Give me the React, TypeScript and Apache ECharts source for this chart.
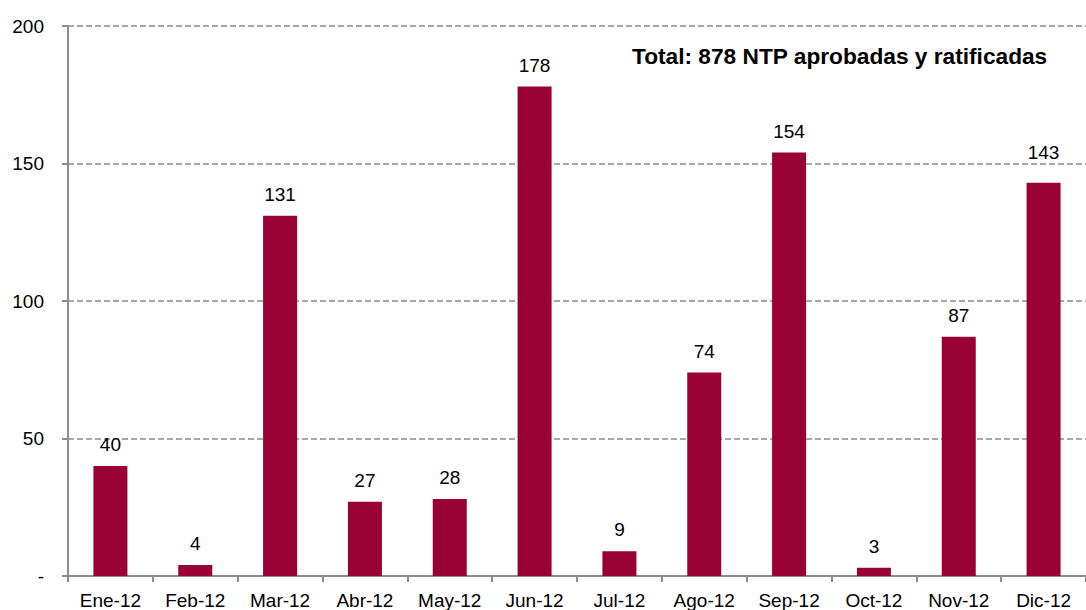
import React, { useEffect, useRef } from "react";
import * as echarts from "echarts";

const categories = ["Ene-12", "Feb-12", "Mar-12", "Abr-12", "May-12", "Jun-12", "Jul-12", "Ago-12", "Sep-12", "Oct-12", "Nov-12", "Dic-12"];
const values = [40, 4, 131, 27, 28, 178, 9, 74, 154, 3, 87, 143];
const yTicks = [0, 50, 100, 150, 200];
const totalText = "Total: 878 NTP aprobadas y ratificadas";

export default function App() {
  const ref = useRef<HTMLDivElement>(null);
  useEffect(() => {
    document.body.style.margin = "0";
    const chart = echarts.init(ref.current!, null, { renderer: "svg" });
    const font = "'Liberation Sans', Arial, sans-serif";
    const barData = values.map((v, i) =>
      i === values.length - 1 ? { value: v, label: { offset: [0, -9] } } : { value: v }
    );
    chart.setOption({
      animation: false,
      backgroundColor: "#ffffff",
      textStyle: { fontFamily: font },
      grid: { left: 68, right: -14, top: 26, bottom: 34, containLabel: false },
      xAxis: {
        type: "category",
        data: categories,
        axisLine: { lineStyle: { color: "#8c8c8c", width: 2 } },
        axisTick: { show: true, length: 6, lineStyle: { color: "#8c8c8c", width: 2 }, alignWithLabel: false },
        axisLabel: { color: "#000", fontSize: 19, fontFamily: font, margin: 15, interval: 0 },
      },
      yAxis: {
        type: "value",
        min: 0,
        max: 200,
        interval: 50,
        axisLine: { show: true, lineStyle: { color: "#8c8c8c", width: 2 } },
        axisTick: { show: true, length: 6, lineStyle: { color: "#8c8c8c", width: 2 } },
        axisLabel: {
          color: "#000",
          fontSize: 19,
          fontFamily: font,
          margin: 24,
          formatter: (v: number) => (yTicks.includes(v) ? (v === 0 ? "-" : String(v)) : ""),
        },
        splitLine: { show: true, lineStyle: { color: "#8c8c8c", type: [6, 3], width: 1.5 } },
      },
      series: [
        {
          type: "bar",
          data: barData,
          barWidth: 34,
          itemStyle: { color: "#990033" },
          label: {
            show: true,
            position: "top",
            distance: 12,
            color: "#000",
            fontSize: 19,
            fontFamily: font,
          },
        },
      ],
      graphic: [
        {
          type: "text",
          left: 632,
          top: 44,
          style: {
            text: totalText,
            fill: "#000",
            font: `bold 22.7px ${font}`,
          },
        },
      ],
    });
    return () => chart.dispose();
  }, []);
  return (
    <div style={{ position: "fixed", left: 0, top: 0, width: 1086, height: 610, overflow: "hidden" }}>
      <div ref={ref} style={{ width: 1086, height: 610 }} />
    </div>
  );
}
